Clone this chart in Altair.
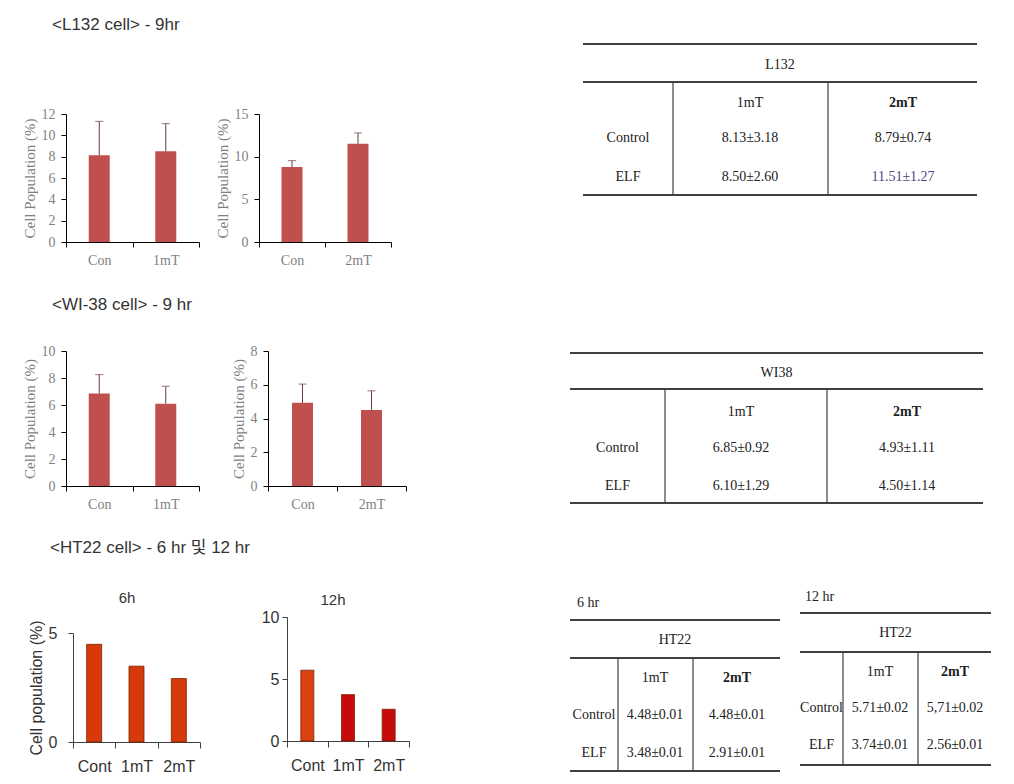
import altair as alt
import pandas as pd

W, H = 1014, 784

# ---------------- data ----------------
l132_a_cats = ["Con", "1mT"]
l132_a_vals = [8.13, 8.50]
l132_a_errs = [3.18, 2.60]
l132_b_cats = ["Con", "2mT"]
l132_b_vals = [8.79, 11.51]
l132_b_errs = [0.74, 1.27]

wi38_a_cats = ["Con", "1mT"]
wi38_a_vals = [6.85, 6.10]
wi38_a_errs = [1.40, 1.29]
wi38_b_cats = ["Con", "2mT"]
wi38_b_vals = [4.93, 4.50]
wi38_b_errs = [1.11, 1.14]

ht22_cats = ["Cont", "1mT", "2mT"]
ht22_6h_vals = [4.48, 3.48, 2.91]
ht22_12h_vals = [5.71, 3.74, 2.56]
ht22_6h_colors = ["#D63A0B", "#D63A0B", "#D63A0B"]
ht22_12h_colors = ["#DA4212", "#C80A0A", "#C80A0A"]

l132_a_ticks = [0, 2, 4, 6, 8, 10, 12]
l132_b_ticks = [0, 5, 10, 15]
wi38_a_ticks = [0, 2, 4, 6, 8, 10]
wi38_b_ticks = [0, 2, 4, 6, 8]
ht22_6h_ticks = [0, 5]
ht22_12h_ticks = [0, 5, 10]

row_titles = ["<L132 cell> - 9hr", "<WI-38 cell> - 9 hr", "<HT22 cell> - 6 hr 및 12 hr"]
panel_titles = ["6h", "12h"]

table_cols = ["1mT", "2mT"]
table_rows = ["Control", "ELF"]
table_l132 = [["8.13±3.18", "8.79±0.74"], ["8.50±2.60", "11.51±1.27"]]
table_wi38 = [["6.85±0.92", "4.93±1.11"], ["6.10±1.29", "4.50±1.14"]]
table_ht22_6 = [["4.48±0.01", "4.48±0.01"], ["3.48±0.01", "2.91±0.01"]]
table_ht22_12 = [["5.71±0.02", "5,71±0.02"], ["3.74±0.01", "2.56±0.01"]]

# ---------------- style ----------------
SERIF = "Liberation Serif"
SANS = "Liberation Sans"
SANS_KR = "Liberation Sans, Noto Sans CJK KR, sans-serif"
GRAY = "#7f7f7f"
RED = "#C0504D"
ERR = "#6b3b3b"
DARK = "#333333"
LINE = "#404040"


def top_panel(cats, vals, errs, x0, x1, y0, y1, ymax, ticks):
    df = pd.DataFrame({"cat": cats, "val": vals,
                       "hi": [v + e for v, e in zip(vals, errs)]})
    xs = alt.Scale(domain=cats, range=[x0, x1], paddingInner=0, paddingOuter=0)
    ys = alt.Scale(domain=[0, ymax], range=[y0, y1], nice=False, zero=True)
    xax = alt.Axis(orient="bottom", offset=-(H - y0), tickBand="extent", tickSize=5,
                   labelPadding=6, labelAngle=0, title=None, domainColor="#000",
                   tickColor="#000", labelColor=GRAY, labelFont=SERIF,
                   labelFontSize=14, grid=False)
    yax = alt.Axis(orient="left", offset=-x0, values=ticks, tickSize=5,
                   labelPadding=6, title="Cell Population (%)", titlePadding=4,
                   domainColor="#000", tickColor="#000", labelColor=GRAY,
                   labelFont=SERIF, labelFontSize=14, titleFont=SERIF,
                   titleFontSize=15, titleFontWeight="normal", titleColor=GRAY,
                   grid=False)
    base = alt.Chart(df).encode(x=alt.X("cat:N", scale=xs, axis=xax, sort=cats))
    bars = base.mark_bar(width=21, color=RED).encode(
        y=alt.Y("val:Q", scale=ys, axis=yax))
    err = base.mark_rule(color=ERR, strokeWidth=1).encode(
        y=alt.Y("val:Q", scale=ys, axis=yax), y2="hi:Q")
    cap = base.mark_tick(color=ERR, thickness=1, size=8, orient="horizontal").encode(
        y=alt.Y("hi:Q", scale=ys, axis=yax))
    return alt.layer(bars, err, cap)


def bottom_panel(cats, vals, colors, x0, x1, y0, y1, ymax, ticks, barw, ytitle):
    df = pd.DataFrame({"cat": cats, "val": vals, "col": colors})
    xs = alt.Scale(domain=cats, range=[x0, x1], paddingInner=0, paddingOuter=0)
    ys = alt.Scale(domain=[0, ymax], range=[y0, y1], nice=False, zero=True)
    xax = alt.Axis(orient="bottom", offset=-(H - y0), tickBand="extent", tickSize=6,
                   labelPadding=10, labelAngle=0, title=None, domainColor=LINE,
                   tickColor=LINE, labelColor=DARK, labelFont=SANS,
                   labelFontSize=16, grid=False)
    yargs = dict(orient="left", offset=-x0, values=ticks, tickSize=5,
                 domainColor=LINE, tickColor=LINE, labelColor=DARK,
                 labelFont=SANS, labelFontSize=16, grid=False)
    if ytitle:
        yax = alt.Axis(labelPadding=11, title=ytitle, titlePadding=4, titleFont=SANS,
                       titleFontSize=16, titleFontWeight="normal", titleColor=DARK,
                       **yargs)
    else:
        yax = alt.Axis(labelPadding=3, title=None, **yargs)
    bars = alt.Chart(df).mark_bar(width=barw, stroke="#7a2000", strokeWidth=0.8).encode(
        x=alt.X("cat:N", scale=xs, axis=xax, sort=cats),
        y=alt.Y("val:Q", scale=ys, axis=yax),
        color=alt.Color("col:N", scale=None),
    )
    return bars


panels = [
    top_panel(l132_a_cats, l132_a_vals, l132_a_errs, 66, 199, 242, 114, 12, l132_a_ticks),
    top_panel(l132_b_cats, l132_b_vals, l132_b_errs, 259, 391, 242, 114, 15, l132_b_ticks),
    top_panel(wi38_a_cats, wi38_a_vals, wi38_a_errs, 66, 199, 486, 351, 10, wi38_a_ticks),
    top_panel(wi38_b_cats, wi38_b_vals, wi38_b_errs, 268, 406, 486, 351, 8, wi38_b_ticks),
    bottom_panel(ht22_cats, ht22_6h_vals, ht22_6h_colors, 73, 200, 742, 633, 5,
                 ht22_6h_ticks, 15, "Cell population (%)"),
    bottom_panel(ht22_cats, ht22_12h_vals, ht22_12h_colors, 287, 409, 741, 617, 10,
                 ht22_12h_ticks, 13, None),
]

# ---------------- titles ----------------
title_df = pd.DataFrame({"t": row_titles, "px": [52, 52, 50], "py": [25, 305, 548]})
titles = alt.Chart(title_df).mark_text(
    align="left", baseline="middle", font=SANS_KR, fontSize=17, color=DARK
).encode(x=alt.X("px:Q", scale=None, axis=None),
         y=alt.Y("py:Q", scale=None, axis=None), text="t:N")

ptitle_df = pd.DataFrame({"t": panel_titles, "px": [127, 333], "py": [598, 600]})
ptitles = alt.Chart(ptitle_df).mark_text(
    align="center", baseline="middle", font=SANS, fontSize=15, color=DARK
).encode(x=alt.X("px:Q", scale=None, axis=None),
         y=alt.Y("py:Q", scale=None, axis=None), text="t:N")

# ---------------- tables ----------------
table_layouts = [
    dict(cells=table_l132, name="L132", x0=583, x1=977, ytop=44, yhead=82, ybot=195,
         vx=[673, 828], yname=65, yhdr=103, yrows=[138, 177], xcols=[750, 903],
         caption=None, special=(1, 1, "#4a4a80")),
    dict(cells=table_wi38, name="WI38", x0=570, x1=983, ytop=353, yhead=389, ybot=503,
         vx=[665, 827], yname=373, yhdr=412, yrows=[448, 486], xcols=[741, 907],
         caption=None, special=None),
    dict(cells=table_ht22_6, name="HT22", x0=570, x1=780, ytop=620, yhead=658, ybot=771,
         vx=[618, 693], yname=640, yhdr=678, yrows=[715, 753], xcols=[655, 737],
         caption="6 hr", cap_xy=(577, 603), special=None),
    dict(cells=table_ht22_12, name="HT22", x0=800, x1=991, ytop=613, yhead=652, ybot=765,
         vx=[843, 918], yname=633, yhdr=672, yrows=[708, 745], xcols=[880, 955],
         caption="12 hr", cap_xy=(805, 597), special=None),
]

lines, texts, bolds, caps = [], [], [], []
for tl in table_layouts:
    for yy in (tl["ytop"], tl["yhead"], tl["ybot"]):
        lines.append(dict(x=tl["x0"], x2=tl["x1"], y=yy, y2=yy, sw=2))
    for vx in tl["vx"]:
        lines.append(dict(x=vx, x2=vx, y=tl["yhead"], y2=tl["ybot"], sw=1.2))
    texts.append(dict(px=(tl["x0"] + tl["x1"]) / 2, py=tl["yname"], t=tl["name"], c="#222222"))
    rowx = (tl["x0"] + tl["vx"][0]) / 2
    texts.append(dict(px=tl["xcols"][0], py=tl["yhdr"], t=table_cols[0], c="#222222"))
    bolds.append(dict(px=tl["xcols"][1], py=tl["yhdr"], t=table_cols[1], c="#222222"))
    for ri, rname in enumerate(table_rows):
        texts.append(dict(px=rowx, py=tl["yrows"][ri], t=rname, c="#222222"))
        for ci in range(2):
            col = "#222222"
            if tl["special"] and tl["special"][0] == ri and tl["special"][1] == ci:
                col = tl["special"][2]
            texts.append(dict(px=tl["xcols"][ci], py=tl["yrows"][ri],
                              t=tl["cells"][ri][ci], c=col))
    if tl["caption"]:
        caps.append(dict(px=tl["cap_xy"][0], py=tl["cap_xy"][1], t=tl["caption"], c="#222222"))

line_layer = alt.Chart(pd.DataFrame(lines)).mark_rule(color=LINE).encode(
    x=alt.X("x:Q", scale=None, axis=None), x2="x2:Q",
    y=alt.Y("y:Q", scale=None, axis=None), y2="y2:Q",
    strokeWidth=alt.StrokeWidth("sw:Q", scale=None),
)


def text_layer(rows, bold=False, align="center"):
    return alt.Chart(pd.DataFrame(rows)).mark_text(
        align=align, baseline="middle", font=SERIF, fontSize=14,
        fontWeight="bold" if bold else "normal"
    ).encode(x=alt.X("px:Q", scale=None, axis=None),
             y=alt.Y("py:Q", scale=None, axis=None),
             text="t:N", color=alt.Color("c:N", scale=None))


layers = panels + [titles, ptitles, line_layer, text_layer(texts),
                   text_layer(bolds, bold=True), text_layer(caps, align="left")]

chart = alt.layer(*layers).resolve_scale(
    x="independent", y="independent"
).properties(
    width=W, height=H, padding=0, autosize=alt.AutoSizeParams(type="none"),
    background="white"
).configure_view(stroke=None)

chart.save("out.html", embed_options={"renderer": "svg", "actions": False})
